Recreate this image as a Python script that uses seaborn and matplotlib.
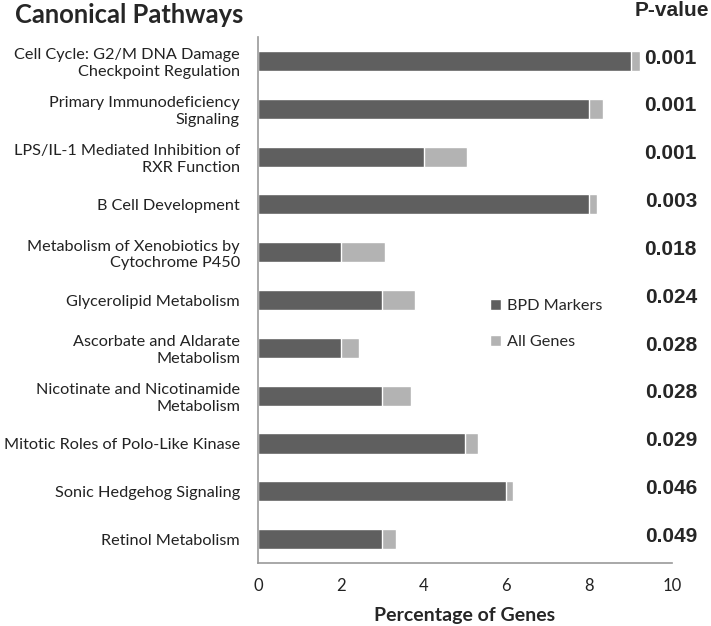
import matplotlib
matplotlib.use("Agg")
import matplotlib.pyplot as plt
import seaborn as sns
import pandas as pd
from matplotlib.patches import Patch

pathways = [
    "Cell Cycle: G2/M DNA Damage\nCheckpoint Regulation",
    "Primary Immunodeficiency\nSignaling",
    "LPS/IL-1 Mediated Inhibition of\nRXR Function",
    "B Cell Development",
    "Metabolism of Xenobiotics by\nCytochrome P450",
    "Glycerolipid Metabolism",
    "Ascorbate and Aldarate\nMetabolism",
    "Nicotinate and Nicotinamide\nMetabolism",
    "Mitotic Roles of Polo-Like Kinase",
    "Sonic Hedgehog Signaling",
    "Retinol Metabolism",
]
bpd_markers = [9, 8, 4, 8, 2, 3, 2, 3, 5, 6, 3]
all_genes = [0.23, 0.34, 1.06, 0.2, 1.07, 0.8, 0.44, 0.7, 0.32, 0.15, 0.33]
p_values = ["0.001", "0.001", "0.001", "0.003", "0.018", "0.024",
            "0.028", "0.028", "0.029", "0.046", "0.049"]

DARK = "#5f5f5f"
LIGHT = "#b3b3b3"

df = pd.DataFrame({"pathway": pathways, "bpd": bpd_markers, "all": all_genes})
df["total"] = df["bpd"] + df["all"]

sns.set_style("white")
plt.rcParams["font.family"] = ["Lato", "DejaVu Sans"]

fig = plt.figure(figsize=(7.11, 6.26), dpi=100)
ax = fig.add_axes([0.3629, 0.1006, 0.5822, 0.8403])

sns.barplot(data=df, x="total", y="pathway", color=LIGHT, orient="h",
            width=0.42, saturation=1, ax=ax)
sns.barplot(data=df, x="bpd", y="pathway", color=DARK, orient="h",
            width=0.42, saturation=1, ax=ax)

ax.set_xlim(0, 10)
ax.set_ylim(len(pathways) - 0.5, -0.5)
ax.set_xticks(range(0, 11, 2))
ax.tick_params(axis="x", labelsize=12, length=5, width=1, color="#999999",
               direction="out", pad=6, labelcolor="#222222")
ax.tick_params(axis="y", labelsize=11.7, length=0, pad=13, labelcolor="#222222")
for lbl in ax.get_yticklabels():
    lbl.set_linespacing(1.25)
for side in ["top", "right"]:
    ax.spines[side].set_visible(False)
for side in ["left", "bottom"]:
    ax.spines[side].set_color("#999999")
    ax.spines[side].set_linewidth(1.2)
ax.set_ylabel("")
ax.set_xlabel("Percentage of Genes", fontsize=14, fontweight="bold", labelpad=9)

for i, p in enumerate(p_values):
    ax.annotate(p, xy=(1.0, i), xycoords=("axes fraction", "data"),
                xytext=(18, 2), textcoords="offset points",
                ha="right", va="center", fontsize=15, fontweight="bold",
                family="Liberation Sans")

fig.text(0.021, 0.963, "Canonical Pathways", fontsize=18.4, fontweight="bold",
         ha="left", va="baseline")
fig.text(0.997, 0.974, "P-value", fontsize=15, fontweight="bold",
         ha="right", va="baseline", family="Liberation Sans")

handles = [Patch(facecolor=DARK, label="BPD Markers"),
           Patch(facecolor=LIGHT, label="All Genes")]
ax.legend(handles=handles, loc="center left", bbox_to_anchor=(0.526, 0.454),
          frameon=False, fontsize=11.7, handlelength=0.65, handleheight=0.65,
          handletextpad=0.4, labelspacing=1.35)

fig.savefig("out.png", dpi=100)
